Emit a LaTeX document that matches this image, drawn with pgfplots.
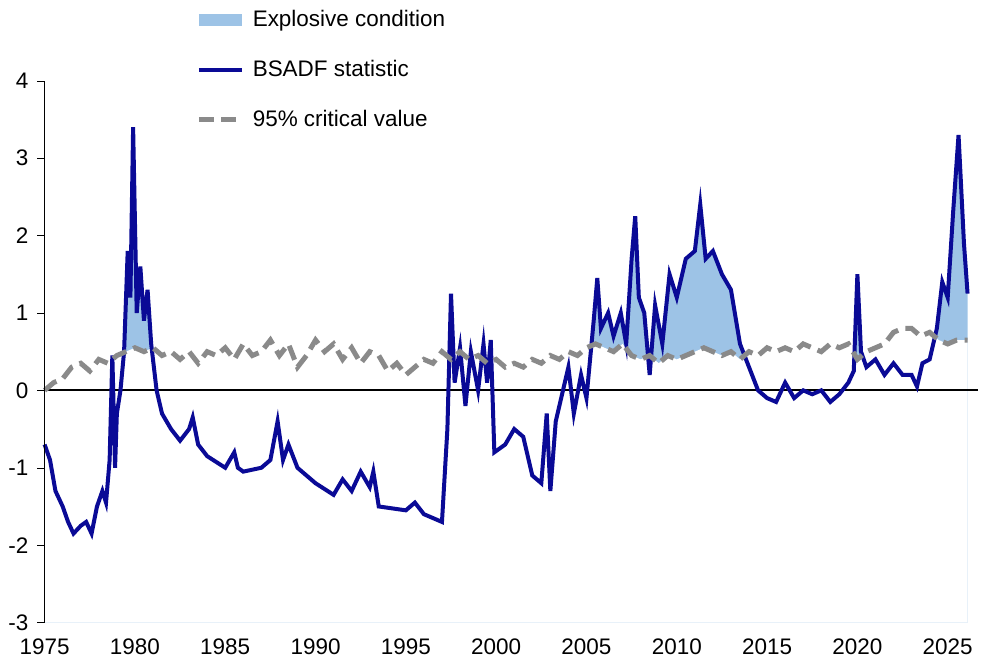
\documentclass[border=0pt]{standalone}
\usepackage{pgfplots}
\pgfplotsset{compat=1.18}
\usepgfplotslibrary{fillbetween}
\usepackage{fontspec}
\setmainfont{Liberation Sans}
\definecolor{navy}{HTML}{0A0A96}
\definecolor{lblue}{HTML}{9DC3E6}
\definecolor{cvgray}{HTML}{8A8A8A}
\begin{document}
\begin{tikzpicture}
\begin{axis}[
 scale only axis, width=374pt, height=217pt,
 xmin=1975, xmax=2026.7, ymin=-3, ymax=4,
 axis y line*=left, axis x line*=bottom,
 x axis line style={draw=none},
 axis on top,
 xtick={1975,1980,...,2025}, ytick={-3,...,4},
 xticklabel style={/pgf/number format/1000 sep={}},
 /pgf/number format/assume math mode=true,
 tick label style={font=\fontsize{9}{10}\selectfont},
 x tick style={draw=none}, ytick style={black},
 tick align=outside, major tick length=3pt,
 clip=false,
 legend style={draw=none, fill=none, at={(0.15,1.15)}, anchor=north west,
   font=\fontsize{9}{10}\selectfont, row sep=8pt, cells={anchor=west}},
 legend cell align=left,
]
\addplot[name path=b, draw=none, forget plot] coordinates {
(1975.0,-0.7)(1975.3,-0.9)(1975.6,-1.3)(1976.0,-1.5)(1976.3,-1.7)(1976.6,-1.85)(1977.0,-1.75)(1977.3,-1.7)(1977.6,-1.85)(1977.9,-1.5)(1978.2,-1.3)(1978.4,-1.45)(1978.6,-0.9)(1978.75,0.45)(1978.9,-1.0)(1979.0,-0.3)(1979.2,0.0)(1979.4,0.5)(1979.6,1.8)(1979.75,1.2)(1979.9,3.4)(1980.1,1.0)(1980.3,1.6)(1980.5,0.9)(1980.7,1.3)(1980.9,0.6)(1981.2,0.0)(1981.5,-0.3)(1982.0,-0.5)(1982.5,-0.65)(1983.0,-0.5)(1983.2,-0.35)(1983.5,-0.7)(1984.0,-0.85)(1985.0,-1.0)(1985.5,-0.8)(1985.7,-1.0)(1986.0,-1.05)(1987.0,-1.0)(1987.5,-0.9)(1987.9,-0.4)(1988.2,-0.9)(1988.5,-0.7)(1989.0,-1.0)(1990.0,-1.2)(1991.0,-1.35)(1991.5,-1.15)(1992.0,-1.3)(1992.5,-1.05)(1993.0,-1.25)(1993.2,-1.05)(1993.5,-1.5)(1995.0,-1.55)(1995.5,-1.45)(1996.0,-1.6)(1997.0,-1.7)(1997.3,-0.5)(1997.5,1.25)(1997.7,0.1)(1998.0,0.55)(1998.3,-0.2)(1998.6,0.5)(1999.0,0.0)(1999.3,0.6)(1999.5,0.1)(1999.7,0.65)(1999.9,-0.8)(2000.5,-0.7)(2001.0,-0.5)(2001.5,-0.6)(2002.0,-1.1)(2002.5,-1.2)(2002.8,-0.3)(2003.0,-1.3)(2003.3,-0.4)(2003.7,0.0)(2004.0,0.3)(2004.3,-0.3)(2004.7,0.2)(2005.0,-0.1)(2005.2,0.4)(2005.4,0.9)(2005.6,1.45)(2005.8,0.8)(2006.2,1.0)(2006.5,0.7)(2006.9,1.0)(2007.2,0.6)(2007.5,1.7)(2007.7,2.25)(2007.9,1.2)(2008.2,1.0)(2008.5,0.2)(2008.8,1.1)(2009.2,0.6)(2009.6,1.5)(2010.0,1.2)(2010.5,1.7)(2011.0,1.8)(2011.3,2.4)(2011.6,1.7)(2012.0,1.8)(2012.5,1.5)(2013.0,1.3)(2013.5,0.6)(2014.0,0.3)(2014.5,0.0)(2015.0,-0.1)(2015.5,-0.15)(2016.0,0.1)(2016.5,-0.1)(2017.0,0.0)(2017.5,-0.05)(2018.0,0.0)(2018.5,-0.15)(2019.0,-0.05)(2019.5,0.1)(2019.8,0.25)(2020.0,1.5)(2020.2,0.5)(2020.5,0.3)(2021.0,0.4)(2021.5,0.2)(2022.0,0.35)(2022.5,0.2)(2023.0,0.2)(2023.3,0.05)(2023.6,0.35)(2024.0,0.4)(2024.4,0.8)(2024.7,1.4)(2025.0,1.2)(2025.3,2.3)(2025.6,3.3)(2025.9,1.9)(2026.1,1.25)
};
\addplot[name path=cv, draw=none, forget plot] coordinates {
(1975.0,0.0)(1975.5,0.1)(1976.0,0.15)(1976.5,0.3)(1977.0,0.35)(1977.5,0.25)(1978.0,0.4)(1978.5,0.35)(1979.0,0.45)(1979.5,0.5)(1980.0,0.55)(1980.5,0.5)(1981.0,0.55)(1981.5,0.45)(1982.0,0.5)(1982.5,0.4)(1983.0,0.5)(1983.5,0.35)(1984.0,0.5)(1984.5,0.45)(1985.0,0.55)(1985.5,0.4)(1986.0,0.6)(1986.5,0.45)(1987.0,0.5)(1987.5,0.65)(1988.0,0.45)(1988.5,0.6)(1989.0,0.3)(1989.5,0.45)(1990.0,0.65)(1990.5,0.5)(1991.0,0.6)(1991.5,0.4)(1992.0,0.55)(1992.5,0.35)(1993.0,0.5)(1993.5,0.45)(1994.0,0.25)(1994.5,0.35)(1995.0,0.2)(1995.5,0.3)(1996.0,0.4)(1996.5,0.35)(1997.0,0.5)(1997.5,0.4)(1998.0,0.5)(1998.5,0.4)(1999.0,0.45)(1999.5,0.35)(2000.0,0.4)(2000.5,0.3)(2001.0,0.35)(2001.5,0.3)(2002.0,0.4)(2002.5,0.35)(2003.0,0.45)(2003.5,0.4)(2004.0,0.5)(2004.5,0.45)(2005.0,0.55)(2005.5,0.6)(2006.0,0.55)(2006.5,0.5)(2007.0,0.6)(2007.5,0.45)(2008.0,0.4)(2008.5,0.45)(2009.0,0.35)(2009.5,0.45)(2010.0,0.4)(2010.5,0.45)(2011.0,0.5)(2011.5,0.55)(2012.0,0.5)(2012.5,0.45)(2013.0,0.5)(2013.5,0.4)(2014.0,0.5)(2014.5,0.45)(2015.0,0.55)(2015.5,0.5)(2016.0,0.55)(2016.5,0.5)(2017.0,0.6)(2017.5,0.55)(2018.0,0.5)(2018.5,0.6)(2019.0,0.55)(2019.5,0.6)(2020.0,0.4)(2020.5,0.5)(2021.0,0.55)(2021.5,0.6)(2022.0,0.75)(2022.5,0.8)(2023.0,0.8)(2023.5,0.7)(2024.0,0.75)(2024.5,0.65)(2025.0,0.6)(2025.5,0.65)(2026.1,0.65)
};
\addplot[name path=bot, draw=none, forget plot] coordinates {(1975,-3)(2026.1,-3)};
\addlegendimage{lblue, line width=5pt}
\addlegendentry{Explosive condition}
\addplot[lblue, forget plot] fill between[of=b and bot];
\addplot[white, forget plot] fill between[of=cv and bot];
\addplot[black, line width=0.8pt, forget plot] coordinates {(1975,0)(2026.7,0)};
\addplot[navy, line width=1.6pt] coordinates {
(1975.0,-0.7)(1975.3,-0.9)(1975.6,-1.3)(1976.0,-1.5)(1976.3,-1.7)(1976.6,-1.85)(1977.0,-1.75)(1977.3,-1.7)(1977.6,-1.85)(1977.9,-1.5)(1978.2,-1.3)(1978.4,-1.45)(1978.6,-0.9)(1978.75,0.45)(1978.9,-1.0)(1979.0,-0.3)(1979.2,0.0)(1979.4,0.5)(1979.6,1.8)(1979.75,1.2)(1979.9,3.4)(1980.1,1.0)(1980.3,1.6)(1980.5,0.9)(1980.7,1.3)(1980.9,0.6)(1981.2,0.0)(1981.5,-0.3)(1982.0,-0.5)(1982.5,-0.65)(1983.0,-0.5)(1983.2,-0.35)(1983.5,-0.7)(1984.0,-0.85)(1985.0,-1.0)(1985.5,-0.8)(1985.7,-1.0)(1986.0,-1.05)(1987.0,-1.0)(1987.5,-0.9)(1987.9,-0.4)(1988.2,-0.9)(1988.5,-0.7)(1989.0,-1.0)(1990.0,-1.2)(1991.0,-1.35)(1991.5,-1.15)(1992.0,-1.3)(1992.5,-1.05)(1993.0,-1.25)(1993.2,-1.05)(1993.5,-1.5)(1995.0,-1.55)(1995.5,-1.45)(1996.0,-1.6)(1997.0,-1.7)(1997.3,-0.5)(1997.5,1.25)(1997.7,0.1)(1998.0,0.55)(1998.3,-0.2)(1998.6,0.5)(1999.0,0.0)(1999.3,0.6)(1999.5,0.1)(1999.7,0.65)(1999.9,-0.8)(2000.5,-0.7)(2001.0,-0.5)(2001.5,-0.6)(2002.0,-1.1)(2002.5,-1.2)(2002.8,-0.3)(2003.0,-1.3)(2003.3,-0.4)(2003.7,0.0)(2004.0,0.3)(2004.3,-0.3)(2004.7,0.2)(2005.0,-0.1)(2005.2,0.4)(2005.4,0.9)(2005.6,1.45)(2005.8,0.8)(2006.2,1.0)(2006.5,0.7)(2006.9,1.0)(2007.2,0.6)(2007.5,1.7)(2007.7,2.25)(2007.9,1.2)(2008.2,1.0)(2008.5,0.2)(2008.8,1.1)(2009.2,0.6)(2009.6,1.5)(2010.0,1.2)(2010.5,1.7)(2011.0,1.8)(2011.3,2.4)(2011.6,1.7)(2012.0,1.8)(2012.5,1.5)(2013.0,1.3)(2013.5,0.6)(2014.0,0.3)(2014.5,0.0)(2015.0,-0.1)(2015.5,-0.15)(2016.0,0.1)(2016.5,-0.1)(2017.0,0.0)(2017.5,-0.05)(2018.0,0.0)(2018.5,-0.15)(2019.0,-0.05)(2019.5,0.1)(2019.8,0.25)(2020.0,1.5)(2020.2,0.5)(2020.5,0.3)(2021.0,0.4)(2021.5,0.2)(2022.0,0.35)(2022.5,0.2)(2023.0,0.2)(2023.3,0.05)(2023.6,0.35)(2024.0,0.4)(2024.4,0.8)(2024.7,1.4)(2025.0,1.2)(2025.3,2.3)(2025.6,3.3)(2025.9,1.9)(2026.1,1.25)
};
\addlegendentry{BSADF statistic}
\addplot[cvgray, line width=2pt, dash pattern=on 6pt off 3pt] coordinates {
(1975.0,0.0)(1975.5,0.1)(1976.0,0.15)(1976.5,0.3)(1977.0,0.35)(1977.5,0.25)(1978.0,0.4)(1978.5,0.35)(1979.0,0.45)(1979.5,0.5)(1980.0,0.55)(1980.5,0.5)(1981.0,0.55)(1981.5,0.45)(1982.0,0.5)(1982.5,0.4)(1983.0,0.5)(1983.5,0.35)(1984.0,0.5)(1984.5,0.45)(1985.0,0.55)(1985.5,0.4)(1986.0,0.6)(1986.5,0.45)(1987.0,0.5)(1987.5,0.65)(1988.0,0.45)(1988.5,0.6)(1989.0,0.3)(1989.5,0.45)(1990.0,0.65)(1990.5,0.5)(1991.0,0.6)(1991.5,0.4)(1992.0,0.55)(1992.5,0.35)(1993.0,0.5)(1993.5,0.45)(1994.0,0.25)(1994.5,0.35)(1995.0,0.2)(1995.5,0.3)(1996.0,0.4)(1996.5,0.35)(1997.0,0.5)(1997.5,0.4)(1998.0,0.5)(1998.5,0.4)(1999.0,0.45)(1999.5,0.35)(2000.0,0.4)(2000.5,0.3)(2001.0,0.35)(2001.5,0.3)(2002.0,0.4)(2002.5,0.35)(2003.0,0.45)(2003.5,0.4)(2004.0,0.5)(2004.5,0.45)(2005.0,0.55)(2005.5,0.6)(2006.0,0.55)(2006.5,0.5)(2007.0,0.6)(2007.5,0.45)(2008.0,0.4)(2008.5,0.45)(2009.0,0.35)(2009.5,0.45)(2010.0,0.4)(2010.5,0.45)(2011.0,0.5)(2011.5,0.55)(2012.0,0.5)(2012.5,0.45)(2013.0,0.5)(2013.5,0.4)(2014.0,0.5)(2014.5,0.45)(2015.0,0.55)(2015.5,0.5)(2016.0,0.55)(2016.5,0.5)(2017.0,0.6)(2017.5,0.55)(2018.0,0.5)(2018.5,0.6)(2019.0,0.55)(2019.5,0.6)(2020.0,0.4)(2020.5,0.5)(2021.0,0.55)(2021.5,0.6)(2022.0,0.75)(2022.5,0.8)(2023.0,0.8)(2023.5,0.7)(2024.0,0.75)(2024.5,0.65)(2025.0,0.6)(2025.5,0.65)(2026.1,0.65)
};
\addlegendentry{95\% critical value}
\end{axis}
\end{tikzpicture}
\end{document}
